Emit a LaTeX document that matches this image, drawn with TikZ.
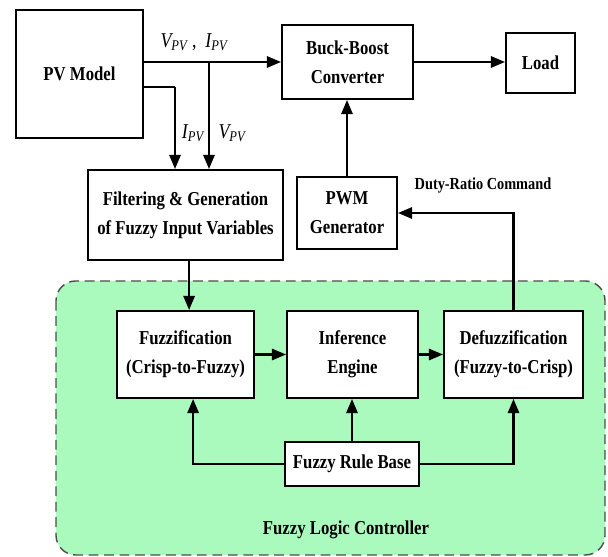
\documentclass[tikz,border=0pt]{standalone}
\usepackage{fontspec}
\setmainfont{Liberation Serif}[FakeStretch=0.85]
\usepackage{xcolor}
\usetikzlibrary{arrows.meta, positioning, calc}
\definecolor{flcgreen}{RGB}{170,250,190}
\tikzset{
  block/.style={
    rectangle, draw=black, line width=1.4pt,
    fill=white, inner sep=2pt,
    align=center, font=\fontsize{14}{20.5}\selectfont\bfseries
  },
  arrow/.style={-{Triangle[length=10pt,width=8pt]}, line width=1.5pt, draw=black},
  wire/.style={line width=1.5pt, draw=black},
  flcarea/.style={
    draw=black!70, dash pattern=on 7pt off 4pt, line width=1pt,
    fill=flcgreen, rounded corners=14pt
  },
  siglabel/.style={font=\fontsize{15}{17}\selectfont\itshape, inner sep=1pt},
  note/.style={font=\fontsize{12}{14}\selectfont\bfseries, inner sep=1pt}
}
\newcommand{\sigV}{V\textsubscript{PV}}
\newcommand{\sigI}{I\textsubscript{PV}}

\begin{document}
\begin{tikzpicture}[x=0.025cm, y=-0.025cm]
  \useasboundingbox (0,0) rectangle (608,557);

  % controller area
  \draw[flcarea] (56,281) rectangle (605,555);
  \node[font=\fontsize{14}{16}\selectfont\bfseries] (flc) at (346,530) {Fuzzy Logic Controller};

  % power path
  \node[block, minimum width=3.175cm, minimum height=3.2cm] (pv) at (79.5,74) {PV Model};
  \node[block, minimum width=3.275cm, minimum height=1.85cm] (buck) at (347.5,62) {Buck-Boost\\Converter};
  \node[block, minimum width=1.725cm, minimum height=1.5cm] (load) at (540.5,63) {Load};

  % control path
  \node[block, minimum width=4.875cm, minimum height=2.25cm] (filter) at (185.5,215) {Filtering \& Generation\\of Fuzzy Input Variables};
  \node[block, minimum width=2.5cm, minimum height=1.8cm] (pwm) at (347,213) {PWM\\Generator};

  % fuzzy blocks
  \node[block, minimum width=3.425cm, minimum height=2.175cm] (fuzz) at (185.5,354.5) {Fuzzification\\(Crisp-to-Fuzzy)};
  \node[block, minimum width=3.275cm, minimum height=2.175cm] (infer) at (352.5,354.5) {Inference\\Engine};
  \node[block, minimum width=3.475cm, minimum height=2.175cm] (defuzz) at (513.5,354.5) {Defuzzification\\(Fuzzy-to-Crisp)};
  \node[block, minimum width=3.35cm, minimum height=1.1cm] (rule) at (352,464) {Fuzzy Rule Base};

  % taps on the PV output
  \coordinate (vtap) at (209,62);
  \coordinate (iout) at (143,87);
  \coordinate (itap) at (175,87);

  \draw[arrow] (pv.east |- buck.west) -- (buck.west);
  \draw[arrow] (vtap) -- (vtap |- filter.north);
  \draw[wire] (iout) -- (itap);
  \draw[arrow] (itap) -- (itap |- filter.north);
  \draw[arrow] (buck.east) -- (load.west |- buck.east);

  \node[siglabel] (lvi) at (194,42) {\sigV\ \upshape,\ \ \itshape\sigI};
  \node[siglabel] (li) at (193,133) {\sigI};
  \node[siglabel] (lv) at (232,133) {\sigV};

  \draw[arrow] (pwm.north) -- (pwm.north |- buck.south);
  \draw[arrow] ([xshift=0.09cm]filter.south) -- ([xshift=0.09cm]filter.south |- fuzz.north);
  \draw[arrow] (fuzz) -- (infer);
  \draw[arrow] (infer) -- (defuzz);
  \draw[arrow] (defuzz.north) |- (pwm.east);
  \node[note] (duty) at (483,185) {Duty-Ratio Command};

  \draw[arrow] (rule.west) -| ([xshift=0.19cm]fuzz.south);
  \draw[arrow] (rule.north) -- (rule.north |- infer.south);
  \draw[arrow] (rule.east) -| (defuzz.south);
\end{tikzpicture}
\end{document}
